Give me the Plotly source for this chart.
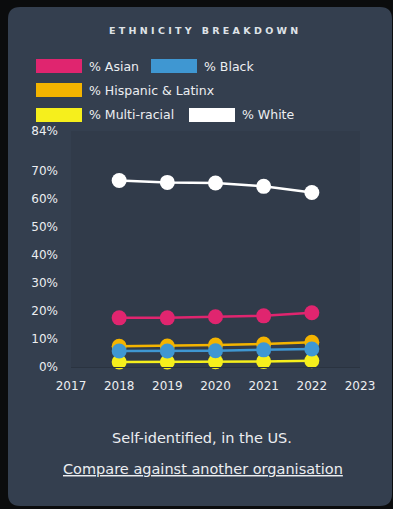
import plotly.graph_objects as go

# ---- data ----
years = [2018, 2019, 2020, 2021, 2022]
series_names = ["% Asian", "% Black", "% Hispanic & Latinx", "% Multi-racial", "% White"]
asian = [17.5, 17.5, 17.9, 18.2, 19.3]
black = [5.7, 5.7, 5.8, 6.1, 6.4]
hispanic = [7.4, 7.5, 7.8, 8.2, 8.8]
multiracial = [1.8, 1.8, 1.9, 2.0, 2.2]
white = [66.4, 65.7, 65.5, 64.3, 62.1]
x_ticks = [2017, 2018, 2019, 2020, 2021, 2022, 2023]
y_ticks = [0, 10, 20, 30, 40, 50, 60, 70, 84]
y_tick_labels = ["0%", "10%", "20%", "30%", "40%", "50%", "60%", "70%", "84%"]

colors = {
    "% Asian": "#e0256f",
    "% Black": "#3f97d2",
    "% Hispanic & Latinx": "#f4b400",
    "% Multi-racial": "#f6ef1c",
    "% White": "#ffffff",
}
values = {
    "% Asian": asian,
    "% Black": black,
    "% Hispanic & Latinx": hispanic,
    "% Multi-racial": multiracial,
    "% White": white,
}
draw_order = ["% White", "% Multi-racial", "% Hispanic & Latinx", "% Black", "% Asian"]

W_FIG, H_FIG = 393, 509
L, R, T, B = 71, 360, 131, 367
PW, PH = R - L, B - T

def px(x):
    return (x - L) / PW

def py(y):
    return (B - y) / PH

FONT = "DejaVu Sans"
TXT = "#eceef1"

fig = go.Figure()
for name in draw_order:
    fig.add_trace(go.Scatter(
        x=years, y=values[name], name=name, mode="lines+markers",
        line=dict(color=colors[name], width=2.5),
        marker=dict(color=colors[name], size=15, line=dict(width=0)),
        showlegend=False, cliponaxis=False,
    ))

shapes = []
# page card with rounded corners
cx0, cy0, cx1, cy1, rr = 8, 7, 392, 506, 12
path = (f"M {px(cx0+rr)},{py(cy0)} L {px(cx1-rr)},{py(cy0)} "
        f"Q {px(cx1)},{py(cy0)} {px(cx1)},{py(cy0+rr)} "
        f"L {px(cx1)},{py(cy1-rr)} Q {px(cx1)},{py(cy1)} {px(cx1-rr)},{py(cy1)} "
        f"L {px(cx0+rr)},{py(cy1)} Q {px(cx0)},{py(cy1)} {px(cx0)},{py(cy1-rr)} "
        f"L {px(cx0)},{py(cy0+rr)} Q {px(cx0)},{py(cy0)} {px(cx0+rr)},{py(cy0)} Z")
shapes.append(dict(type="path", path=path, xref="paper", yref="paper",
                   fillcolor="#343f4f", line=dict(width=0), layer="below"))
# plot area background
shapes.append(dict(type="rect", xref="paper", yref="paper", x0=0, x1=1, y0=0, y1=1,
                   fillcolor="#313b4a", line=dict(width=0), layer="below"))

# legend layout: (name, rect left px, row center px)
legend_layout = [
    ("% Asian", 36, 66),
    ("% Black", 151, 66),
    ("% Hispanic & Latinx", 36, 90),
    ("% Multi-racial", 36, 115),
    ("% White", 189, 115),
]
annotations = []
for name, lx, ly in legend_layout:
    shapes.append(dict(type="rect", xref="paper", yref="paper",
                       x0=px(lx), x1=px(lx + 46), y0=py(ly + 7), y1=py(ly - 7),
                       fillcolor=colors[name], line=dict(width=0), layer="above"))
    annotations.append(dict(text=name, xref="paper", yref="paper", x=px(lx + 51), y=py(ly),
                            xanchor="left", yanchor="middle", showarrow=False,
                            font=dict(family=FONT, size=12.5, color=TXT)))

title = " ".join("ETHNICITY") + "   " + " ".join("BREAKDOWN")
annotations.append(dict(text="<b>" + title + "</b>", xref="paper", yref="paper",
                        x=px(203), y=py(30), xanchor="center", yanchor="middle",
                        showarrow=False, font=dict(family=FONT, size=9.5, color="#dfe3e8")))
annotations.append(dict(text="Self-identified, in the US.", xref="paper", yref="paper",
                        x=px(202), y=py(438), xanchor="center", yanchor="middle",
                        showarrow=False, font=dict(family=FONT, size=14.5, color=TXT)))
annotations.append(dict(text="<u>Compare against another organisation</u>", xref="paper", yref="paper",
                        x=px(203), y=py(469), xanchor="center", yanchor="middle",
                        showarrow=False, font=dict(family=FONT, size=14.5, color=TXT)))

fig.update_layout(
    width=W_FIG, height=H_FIG,
    margin=dict(l=L, r=W_FIG - R, t=T, b=H_FIG - B, pad=0),
    paper_bgcolor="#0b0c0d", plot_bgcolor="rgba(0,0,0,0)",
    shapes=shapes, annotations=annotations, showlegend=False,
    xaxis=dict(range=[2017, 2023], tickvals=x_ticks, ticktext=[str(v) for v in x_ticks],
               showgrid=False, zeroline=False, showline=True, linecolor="#2a3340", linewidth=1,
               ticks="", ticklabelstandoff=8,
               tickfont=dict(family=FONT, size=12, color=TXT), fixedrange=True),
    yaxis=dict(range=[0, 84], tickvals=y_ticks, ticktext=y_tick_labels,
               showgrid=False, zeroline=False, showline=False, ticks="", ticklabelstandoff=12,
               tickfont=dict(family=FONT, size=12, color=TXT), fixedrange=True),
)
fig.write_html("out.html", config={"displayModeBar": False})
